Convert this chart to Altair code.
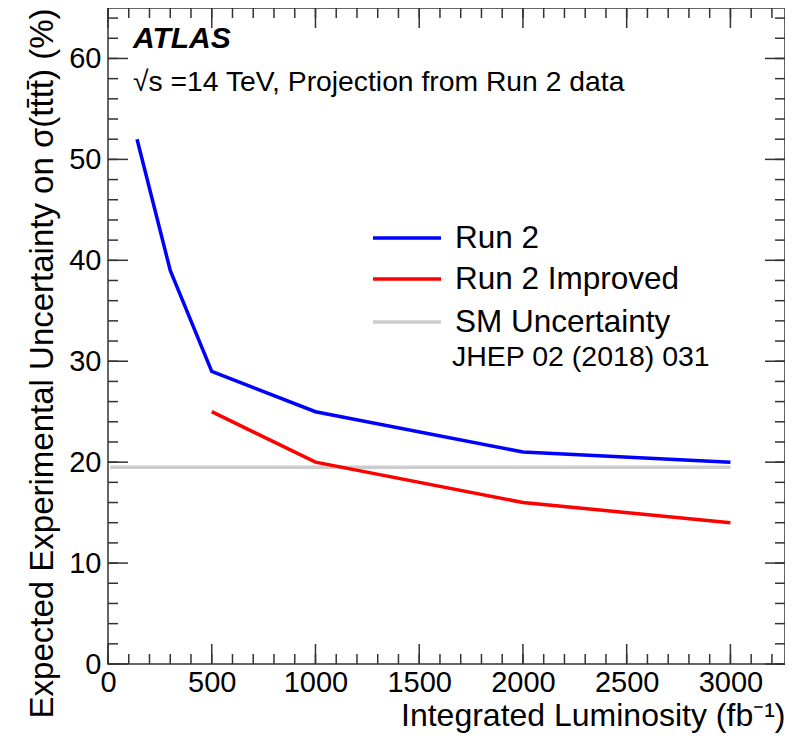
import altair as alt
import pandas as pd

# ---- data ----
lumi_run2 = [140, 300, 500, 1000, 2000, 3000]
unc_run2 = [52, 39, 29, 25, 21, 20]
lumi_impr = [500, 1000, 2000, 3000]
unc_impr = [25, 20, 16, 14]
lumi_sm = [10, 3000]
unc_sm = [19.5, 19.5]

series = ["Run 2", "Run 2 Improved", "SM Uncertainty"]
colors = ["#0000ff", "#ff0000", "#cccccc"]

x_labels = [0, 500, 1000, 1500, 2000, 2500, 3000]
x_minor = list(range(0, 3300, 100))
y_labels = [0, 10, 20, 30, 40, 50, 60]
y_minor = list(range(0, 66, 2))

W, H = 677, 656
FONT = "Liberation Sans"
TC = "#333333"

rows = []
for name, xs_, ys_ in [("SM Uncertainty", lumi_sm, unc_sm),
                       ("Run 2", lumi_run2, unc_run2),
                       ("Run 2 Improved", lumi_impr, unc_impr)]:
    for a, b in zip(xs_, ys_):
        rows.append({"series": name, "lumi": a, "unc": b})
df = pd.DataFrame(rows)

xs = alt.Scale(domain=[0, 3263], nice=False, zero=False)
ys = alt.Scale(domain=[0, 65], nice=False, zero=False)
cs = alt.Scale(domain=series, range=colors)

X_AXIS = alt.Axis(
    values=x_labels, format="d", ticks=False, domain=False, grid=False, labelFlush=False,
    labelFontSize=29, labelFont=FONT, labelColor="black", labelPadding=4,
    title="Integrated Luminosity (fb\u207b\u00b9)", titleFont=FONT, titleFontSize=32,
    titleFontWeight="normal", titleColor="black", titleAnchor="end", titlePadding=3)
Y_AXIS = alt.Axis(
    values=y_labels, format="d", ticks=False, domain=False, grid=False, labelFlush=False,
    labelFontSize=29, labelFont=FONT, labelColor="black", labelPadding=7,
    title="Expected Experimental Uncertainty on \u03c3(tt\u0304tt\u0304) (%)",
    titleFont=FONT, titleFontSize=33, titleFontWeight="normal", titleColor="black",
    titleAnchor="end", titlePadding=9)

lines = alt.Chart(df).mark_line(strokeWidth=3.5, clip=True).encode(
    x=alt.X("lumi:Q", scale=xs, axis=X_AXIS),
    y=alt.Y("unc:Q", scale=ys, axis=Y_AXIS),
    color=alt.Color("series:N", scale=cs, legend=None),
    detail="series:N",
)

def xticks(vals, length):
    d = pd.DataFrame({"v": vals})
    bot = alt.Chart(d).mark_rule(color=TC, strokeWidth=1.5).encode(
        x=alt.X("v:Q", scale=xs, axis=X_AXIS), y=alt.value(H), y2=alt.value(H - length))
    top = alt.Chart(d).mark_rule(color=TC, strokeWidth=1.5).encode(
        x=alt.X("v:Q", scale=xs, axis=X_AXIS), y=alt.value(0), y2=alt.value(length))
    return [bot, top]

def yticks(vals, length):
    d = pd.DataFrame({"v": vals})
    left = alt.Chart(d).mark_rule(color=TC, strokeWidth=1.5).encode(
        y=alt.Y("v:Q", scale=ys, axis=Y_AXIS), x=alt.value(0), x2=alt.value(length))
    right = alt.Chart(d).mark_rule(color=TC, strokeWidth=1.5).encode(
        y=alt.Y("v:Q", scale=ys, axis=Y_AXIS), x=alt.value(W), x2=alt.value(W - length))
    return [left, right]

tick_layers = xticks(x_minor, 10) + xticks(x_labels, 20) + yticks(y_minor, 10) + yticks(y_labels, 20)

# ---- legend (manual, colours through the same scale) ----
leg_y = [230, 271, 314]
legend_layers = []
for name, yy in zip(series, leg_y):
    d = pd.DataFrame({"series": [name]})
    legend_layers.append(alt.Chart(d).mark_rule(strokeWidth=3.5).encode(
        x=alt.value(265), x2=alt.value(333), y=alt.value(yy),
        color=alt.Color("series:N", scale=cs, legend=None)))
    legend_layers.append(alt.Chart(d).mark_text(
        align="left", baseline="middle", font=FONT, fontSize=31.5, color="black").encode(
        x=alt.value(347), y=alt.value(yy + 1), text="series:N"))

def label(txt, x, y, size, **kw):
    return alt.Chart(pd.DataFrame({"t": [txt]})).mark_text(
        align="left", baseline="alphabetic", font=FONT, fontSize=size, color="black", **kw
    ).encode(x=alt.value(x), y=alt.value(y), text="t:N")

texts = [
    label("ATLAS", 25, 40, 30, fontWeight="bold", fontStyle="italic"),
    label("\u221as =14 TeV, Projection from Run 2 data", 25, 83, 28.3),
    label("JHEP 02 (2018) 031", 344, 358, 28.5),
]

chart = alt.layer(lines, *tick_layers, *legend_layers, *texts).properties(
    width=W, height=H,
    autosize=alt.AutoSizeParams(type="none"),
    padding={"left": 100, "top": 0, "right": 0, "bottom": 69},
).configure(background="white").configure_view(stroke=TC, strokeWidth=1.5)

chart.save("out.html", embed_options={"renderer": "svg", "actions": False})
